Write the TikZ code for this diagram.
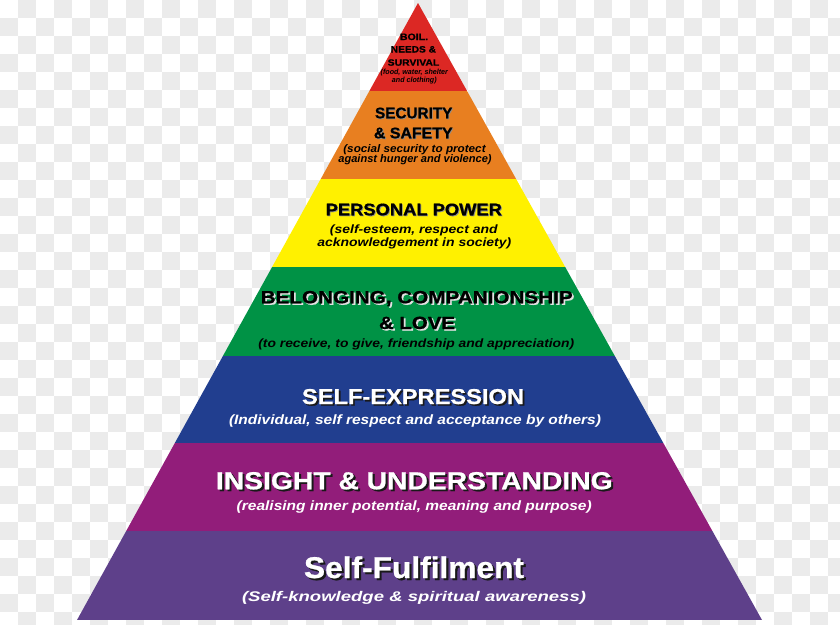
\documentclass[tikz,border=0pt]{standalone}
\usepackage{fontspec}
\setmainfont{Liberation Sans}
\newfontfamily\heavyfont[FakeBold=0.8]{Liberation Sans Bold}
\usepackage{graphicx}
\definecolor{cRed}{RGB}{220,40,36}
\definecolor{cOrange}{RGB}{232,127,32}
\definecolor{cYellow}{RGB}{255,241,0}
\definecolor{cGreen}{RGB}{0,146,69}
\definecolor{cBlue}{RGB}{33,62,143}
\definecolor{cMag}{RGB}{146,29,122}
\definecolor{cPurp}{RGB}{94,64,138}
\definecolor{cChk}{RGB}{235,235,235}
\definecolor{cShadeLight}{RGB}{225,225,225}
\definecolor{cShadeDark}{RGB}{25,25,25}
\newlength\fitwd
\newcommand\fitbox[2]{\setbox0\hbox{#2}\fitwd=\wd0\pgfmathsetmacro\fitsx{#1/\fitwd}\scalebox{\fitsx}[1]{\box0}}
\newcommand\hf[1]{\fontsize{#1}{#1}\heavyfont}
\newcommand\subf[1]{\fontsize{#1}{#1}\selectfont\bfseries\itshape}
\tikzset{txt/.style={anchor=base, inner sep=0pt, outer sep=0pt}}
\newcommand\tline[7]{\node[txt,text=#7] (#1) at (#2,#3) {#5\fitbox{#4}{#6}};}
% text with a drop shadow, drawn inside one node
\newcommand\tshadow[9]{%
  \node[txt,text=#7] (#1) at (#2,#3) {#5\fitbox{#4}{\rlap{\kern#9pt\raisebox{-#9pt}{\textcolor{#8}{#6}}}#6}};}
\begin{document}
\begin{tikzpicture}[x=1pt,y=-1pt]
\useasboundingbox (0,0) rectangle (840,624);
\clip (0,0) rectangle (840,624);
% checkerboard background
\fill[white] (0,0) rectangle (840,624);
\foreach \j in {0,2,...,34} \foreach \i in {1,3,...,45} \fill[cChk] (\i*18,\j*18) rectangle ++(18,18);
\foreach \j in {1,3,...,33} \foreach \i in {0,2,...,46} \fill[cChk] (\i*18,\j*18) rectangle ++(18,18);
% pyramid layers
\begin{scope}
\clip (418,3) -- (77,620) -- (762,620) -- cycle;
\fill[cRed] (0,0) rectangle (840,90.7);
\fill[cOrange] (0,90.7) rectangle (840,178.5);
\fill[cYellow] (0,178.5) rectangle (840,267.3);
\fill[cGreen] (0,267.3) rectangle (840,355.7);
\fill[cBlue] (0,355.7) rectangle (840,443.3);
\fill[cMag] (0,443.3) rectangle (840,531);
\fill[cPurp] (0,531) rectangle (840,620);
\end{scope}
% red layer
\tline{r1}{414}{40}{28}{\hf{9.2}}{BOIL.}{black}
\tline{r2}{413.4}{52.5}{45.3}{\hf{9.2}}{NEEDS \&}{black}
\tline{r3}{413.5}{65.7}{51.6}{\hf{9.2}}{SURVIVAL}{black}
\tline{r4}{414.3}{74.6}{67.3}{\subf{7.4}}{(food, water, shelter}{black}
\tline{r5}{414.3}{82}{44.7}{\subf{7.4}}{and clothing)}{black}
% orange layer
\tshadow{o1}{413.7}{118.3}{77.3}{\hf{15.4}}{SECURITY}{black}{black!45}{0.8}
\tshadow{o2}{413.3}{138.3}{78.7}{\hf{15.4}}{\& SAFETY}{black}{black!45}{0.8}
\tline{o3}{414.5}{152}{142.3}{\subf{11}}{(social security to protect}{black}
\tline{o4}{415}{162.5}{153.3}{\subf{11}}{against hunger and violence)}{black}
% yellow layer
\tshadow{y1}{413.8}{215.3}{176.3}{\hf{16.8}}{PERSONAL POWER}{black}{black!45}{0.8}
\tline{y2}{413.8}{233.4}{167.7}{\subf{12}}{(self-esteem, respect and}{black}
\tline{y3}{414.3}{246.8}{194}{\subf{12}}{acknowledgement in society)}{black}
% green layer
\tshadow{g1}{416.7}{303.3}{312}{\hf{17.7}}{BELONGING, COMPANIONSHIP}{black}{cShadeLight}{1.5}
\tshadow{g2}{417}{329}{76}{\hf{17.7}}{\& LOVE}{black}{cShadeLight}{1.5}
\tline{g3}{416.3}{347.3}{316}{\subf{12}}{(to receive, to give, friendship and appreciation)}{black}
% blue layer
\tshadow{b1}{413}{404}{222}{\hf{21.5}}{SELF-EXPRESSION}{white}{cShadeDark}{1.6}
\tline{b2}{415}{424.5}{372}{\subf{13.5}}{(Individual, self respect and acceptance by others)}{white}
% magenta layer
\tshadow{m1}{414.3}{489.3}{396.7}{\hf{24.7}}{INSIGHT \& UNDERSTANDING}{white}{cShadeDark}{1.8}
\tline{m2}{414.2}{510.7}{355}{\subf{13.5}}{(realising inner potential, meaning and purpose)}{white}
% purple layer
\tshadow{p1}{414}{578}{220}{\hf{30}}{Self-Fulfilment}{white}{cShadeDark}{2}
\tline{p2}{414}{601}{344}{\subf{14}}{(Self-knowledge \& spiritual awareness)}{white}
\end{tikzpicture}
\end{document}
